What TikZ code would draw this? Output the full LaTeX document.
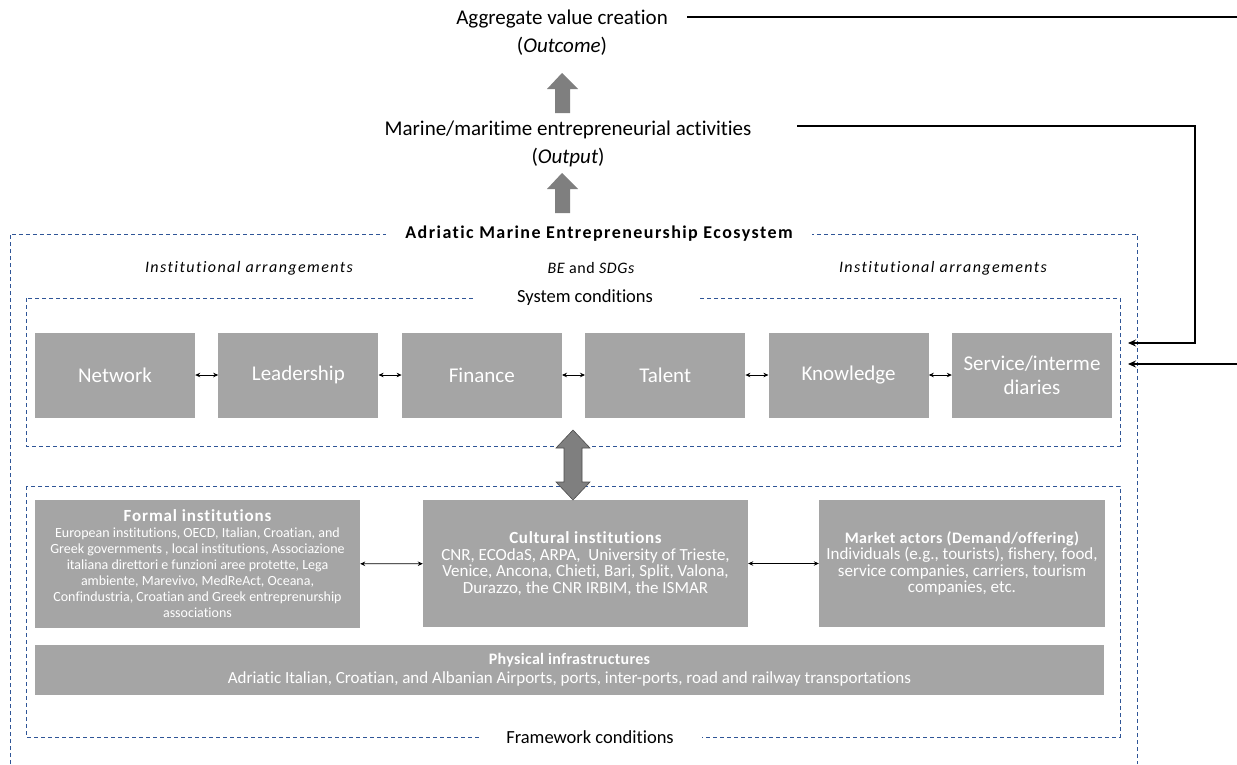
\documentclass[tikz,border=0pt]{standalone}
\usepackage{fontspec}
\setmainfont{Carlito}[Ligatures=NoCommon]
\usetikzlibrary{positioning,arrows.meta}
\tikzset{>={Stealth[length=5pt,width=4.5pt]}}
\definecolor{boxgray}{RGB}{165,165,165}
\definecolor{arrgray}{RGB}{127,127,127}
\definecolor{dashblue}{RGB}{47,85,151}
\newcommand{\spaced}[1]{\addfontfeature{LetterSpace=#1}}
\tikzset{
  sysbox/.style={fill=boxgray, text=white, minimum width=160pt, minimum height=85pt,
    inner sep=2pt, align=center, font=\fontsize{21}{24}\selectfont},
  instbox/.style={fill=boxgray, text=white, inner sep=2pt, align=center,
    font=\fontsize{17}{16.5}\selectfont},
  toptext/.style={align=center, inner sep=1pt, font=\fontsize{21}{28}\selectfont},
  frame/.style={draw=dashblue, dash pattern=on 4pt off 3pt, line width=0.8pt},
  frametitle/.style={fill=white, inner sep=0pt, minimum height=20pt, font=\fontsize{18.5}{20}\selectfont},
  arrlabel/.style={inner sep=1pt, font=\fontsize{16}{18}\selectfont\itshape\spaced{9}},
  link/.style={<->, line width=0.7pt},
  feedback/.style={line width=1.2pt, -{Stealth[length=8pt,width=7pt]}},
}
\begin{document}
\begin{tikzpicture}[x=1pt,y=-1pt]
\useasboundingbox (0,0) rectangle (1237,764);
% outcome and output
\node[toptext] (outcome) at (562,33) {Aggregate value creation\\(\textit{Outcome})};
\node[toptext] (output) at (568,144) {Marine/maritime entrepreneurial activities\\(\textit{Output})};
\fill[arrgray] (555,113) -- (555,89) -- (547,89) -- (562,73) -- (578,89) -- (570,89) -- (570,113) -- cycle;
\fill[arrgray] (555,213) -- (555,189) -- (547,189) -- (562,173) -- (578,189) -- (570,189) -- (570,213) -- cycle;
% frames
\draw[frame] (10,764) -- (10,234) -- (1137,234) -- (1137,764);
\draw[frame] (26,298) rectangle (1120,446);
\draw[frame] (26,486) rectangle (1120,737);
\node[frametitle, minimum width=426pt, font=\fontsize{18}{20}\selectfont\bfseries\spaced{8}] (eco) at (599,234) {Adriatic Marine Entrepreneurship Ecosystem};
\node[frametitle, minimum width=225pt] (syscond) at (585,298) {System conditions};
\node[frametitle, minimum width=223pt] (framecond) at (590,737) {Framework conditions};
\node[arrlabel] (instl) at (249,268) {Institutional arrangements};
\node[arrlabel, font=\fontsize{16}{18}\selectfont\itshape\spaced{4}] (besdg) at (591,268) {BE {\upshape and} SDGs};
\node[arrlabel] (instr) at (943,268) {Institutional arrangements};
% system conditions
\node[sysbox] (net) at (115,375) {Network};
\node[sysbox, right=23pt of net] (lead) {Leadership};
\node[sysbox, right=23pt of lead] (fin) {Finance};
\node[sysbox, right=23pt of fin] (tal) {Talent};
\node[sysbox, right=23pt of tal] (know) {Knowledge};
\node[sysbox, right=23pt of know] (serv) {Service/interme\\diaries};
\foreach \a/\b in {net/lead,lead/fin,fin/tal,tal/know,know/serv}
  \draw[link] (\a) -- (\b);
% framework conditions
\node[instbox, minimum width=325pt, minimum height=128pt, font=\fontsize{14}{16}\selectfont] (formal) at (197.5,564)
  {{\fontsize{17}{18}\selectfont\bfseries\spaced{5}Formal institutions}\\
   European institutions, OECD, Italian, Croatian, and\\
   Greek governments , local institutions, Associazione\\
   italiana direttori e funzioni aree protette, Lega\\
   ambiente, Marevivo, MedReAct, Oceana,\\
   Confindustria, Croatian and Greek entreprenurship\\
   associations};
\node[instbox, minimum width=325pt, minimum height=127pt] (cult) at (585.5,563.5)
  {{\bfseries\spaced{4}Cultural institutions}\\
   CNR, ECOdaS, ARPA,~ University of Trieste,\\
   Venice, Ancona, Chieti, Bari, Split, Valona,\\
   Durazzo, the CNR IRBIM, the ISMAR};
\node[instbox, minimum width=286pt, minimum height=127pt] (market) at (962,563.5)
  {{\fontsize{16}{16.5}\selectfont\bfseries\spaced{3}Market actors (Demand/offering)}\\
   Individuals (e.g., tourists), fishery, food,\\
   service companies, carriers, tourism\\
   companies, etc.};
\node[instbox, minimum width=1069pt, minimum height=50pt, font=\fontsize{17}{19}\selectfont] (phys) at (569.5,670)
  {{\fontsize{16}{19}\selectfont\bfseries\spaced{2}Physical infrastructures}\\
   Adriatic Italian, Croatian, and Albanian Airports, ports, inter-ports, road and railway transportations};
\draw[link] (formal) -- (cult);
\draw[link] (cult) -- (market);
% link between the two levels
\filldraw[fill=arrgray, draw=black!70, line width=0.6pt] (573,430) -- (590,448) -- (582,448) -- (582,482) -- (590,482)
  -- (573,500) -- (556,482) -- (564,482) -- (564,448) -- (556,448) -- cycle;
% feedback lines
\coordinate (outcomefb) at (687,17);
\coordinate (edgetop) at (1237,17);
\coordinate (outputfb) at (797,126);
\coordinate (turn) at (1195,126);
\coordinate (sysin1) at (1128,343);
\coordinate (edgein) at (1237,364);
\coordinate (sysin2) at (1128,364);
\draw[line width=1.2pt] (outcomefb) -- (edgetop);
\draw[feedback] (outputfb) -- (turn) |- (sysin1);
\draw[feedback] (edgein) -- (sysin2);
\end{tikzpicture}
\end{document}
